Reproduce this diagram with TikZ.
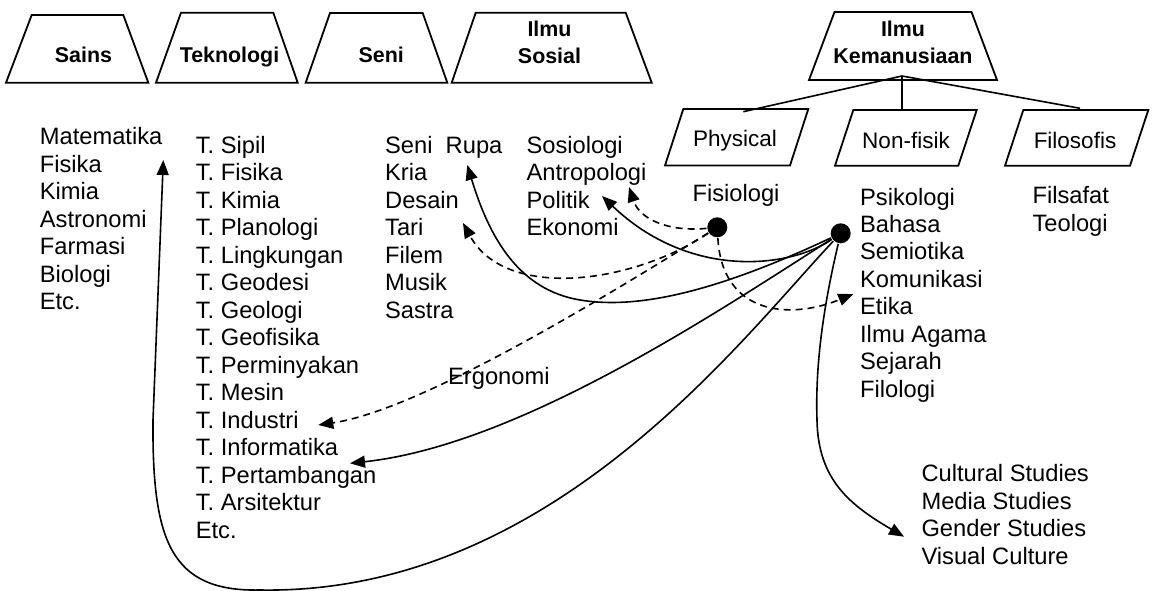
\documentclass[tikz,border=0pt]{standalone}
\usepackage{fontspec}
\setmainfont{Liberation Sans}
\usetikzlibrary{arrows.meta}
\newcommand{\mylist}[1]{\begin{tabular}[t]{@{}l@{}}#1\end{tabular}}
\newcommand{\myhead}[1]{\begin{tabular}[b]{@{}c@{}}#1\end{tabular}}
\begin{document}
\begin{tikzpicture}[x=1pt,y=-1pt,line width=1.7pt,line join=miter,
  txt/.style={font=\fontsize{23.7}{27.5}\selectfont, inner sep=0pt, anchor=base west},
  head/.style={font=\bfseries\fontsize{21.4}{26.6}\selectfont, inner sep=0pt, anchor=base},
  boxlabel/.style={font=\fontsize{22.5}{27}\selectfont, inner sep=0pt, anchor=base},
  shapeline/.style={draw=black, line width=1.8pt},
  dot/.style={circle, fill=black, inner sep=0pt, minimum size=20pt},
  arr/.style={-{Triangle[length=15pt,width=12pt]}, line width=1.6pt},
  dsh/.style={dash pattern=on 7pt off 5pt}]
\useasboundingbox (0,0) rectangle (1152,591);

% ---- top trapezoids ----
\draw[shapeline] (31.7,15) -- (123.3,15) -- (148.3,82.7) -- (6,82.7) -- cycle;
\node[head] (sains) at (83.5,63) {Sains};
\draw[shapeline] (181,12.7) -- (273.3,12.7) -- (297.7,82.7) -- (156,82.7) -- cycle;
\node[head] (tekno) at (229.5,63) {Teknologi};
\draw[shapeline] (330,13) -- (422.7,13) -- (447.3,82.7) -- (305.7,82.7) -- cycle;
\node[head] (seni) at (381.3,63) {Seni};
\draw[shapeline] (475.7,12.7) -- (625.7,12.7) -- (651.7,82.7) -- (451.7,82.7) -- cycle;
\node[head] (sosial) at (549.5,63.3) {\myhead{Ilmu\\Sosial}};
\draw[shapeline] (834.5,12) -- (971.5,12) -- (997,80) -- (809,80) -- cycle;
\node[head] (kemanusiaan) at (903,63.3) {\myhead{Ilmu\\Kemanusiaan}};

% ---- parallelograms ----
\draw[shapeline] (683.3,109) -- (808.3,109) -- (790,165.5) -- (665,165.5) -- cycle;
\node[boxlabel] (physical) at (735,146.7) {Physical};
\draw[shapeline] (853.3,110) -- (976.7,110) -- (958.3,165.7) -- (835,165.7) -- cycle;
\node[boxlabel] (nonfisik) at (906,148.3) {Non-fisik};
\draw[shapeline] (1023.3,110) -- (1148.3,110) -- (1130,165.7) -- (1005,165.7) -- cycle;
\node[boxlabel] (filosofis) at (1075,148.3) {Filosofis};

\coordinate (jn) at (902,76);
\coordinate (phyT) at (743.3,111.7);
\coordinate (nonT) at (902,110);
\coordinate (filT) at (1080,108.3);
\draw[line width=1.6pt] (jn) -- (phyT);
\draw[line width=1.6pt] (jn) -- (nonT);
\draw[line width=1.6pt] (jn) -- (filT);

% ---- text columns ----
\node[txt] (lsains) at (39,145) {\mylist{Matematika\\Fisika\\Kimia\\Astronomi\\Farmasi\\Biologi\\Etc.}};
\node[txt] (ltek) at (195,153.3) {\mylist{T. Sipil\\T. Fisika\\T. Kimia\\T. Planologi\\T. Lingkungan\\T. Geodesi\\T. Geologi\\T. Geofisika\\T. Perminyakan\\T. Mesin\\T. Industri\\T. Informatika\\T. Pertambangan\\T. Arsitektur\\Etc.}};
\node[txt] (lseni) at (384.3,153.3) {\mylist{Seni\ \ Rupa\\Kria\\Desain\\Tari\\Filem\\Musik\\Sastra}};
\node[txt] (lsos) at (525.7,153.3) {\mylist{Sosiologi\\Antropologi\\Politik\\Ekonomi}};
\node[txt] (lfisio) at (691.7,201.7) {Fisiologi};
\node[txt] (lnon) at (859.3,205) {\mylist{Psikologi\\Bahasa\\Semiotika\\Komunikasi\\Etika\\Ilmu Agama\\Sejarah\\Filologi}};
\node[txt] (lfil) at (1031.7,204) {\mylist{Filsafat\\Teologi}};
\node[txt] (lcult) at (920.7,481.7) {\mylist{Cultural Studies\\Media Studies\\Gender Studies\\Visual Culture}};
\node[txt] (lergo) at (447.3,384) {Ergonomi};

% ---- dots ----
\node[dot] (d1) at (717.3,227.3) {};
\node[dot] (d2) at (840.7,233.3) {};

% ---- arrow end points ----
\coordinate (tMat) at (163.3,160);
\coordinate (tPer) at (350,463.3);
\coordinate (tInd) at (318.3,425);
\coordinate (tRupa) at (467.3,165);
\coordinate (tTari) at (463,223);
\coordinate (tPol) at (602,196);
\coordinate (tAnt) at (629,187);
\coordinate (tEti) at (853.3,294);
\coordinate (tGen) at (904,536.7);

% ---- solid connectors from d2 ----
\draw[arr] (d2) .. controls (740,340) and (550,595) .. (260,590)
  .. controls (170,592) and (152,540) .. (153,420) -- (tMat);
\draw[arr] (d2) .. controls (720,310) and (520,445) .. (tPer);
\draw[arr] (d2) .. controls (720,290) and (640,310) .. (580,300)
  .. controls (520,290) and (490,240) .. (tRupa);
\draw[arr] (d2) .. controls (790,268) and (690,280) .. (tPol);
\draw[arr] (d2) .. controls (825,300) and (815,360) .. (817,420)
  .. controls (818,480) and (850,505) .. (tGen);

% ---- dashed connectors from d1 ----
\draw[arr,dsh] (d1) .. controls (600,300) and (420,410) .. (tInd);
\draw[arr,dsh] (d1) .. controls (630,285) and (505,300) .. (tTari);
\draw[arr,dsh] (d1) .. controls (670,232) and (640,220) .. (tAnt);
\draw[arr,dsh] (d1) .. controls (722,315) and (790,320) .. (tEti);
\end{tikzpicture}
\end{document}
